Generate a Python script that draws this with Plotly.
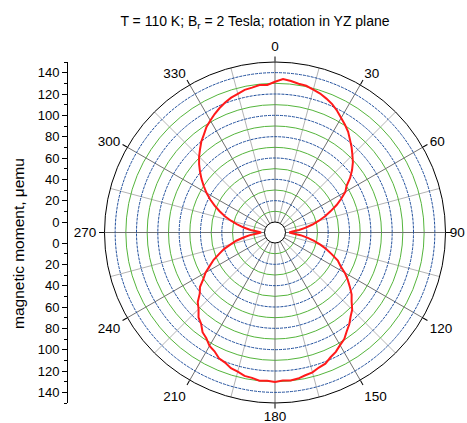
import plotly.graph_objects as go

# ---- data ----
theta_deg = list(range(0, 361, 3))
moment = [
    131.5, 134.2, 133.0, 131.4, 130.8, 128.9, 127.1, 124.6, 121.9, 118.3,
    114.2, 110.6, 106.8, 101.9, 97.5, 92.8, 88.4, 83.1, 77.2, 70.1,
    66.3, 59.8, 53.4, 46.1, 39.5, 32.8, 26.1, 19.4, 12.8, 6.5,
    3.5, 7.1, 14.2, 20.8, 27.6, 34.1, 40.9, 47.3, 54.6, 58.9,
    65.8, 71.4, 76.9, 82.6, 86.8, 92.5, 96.1, 100.8, 104.6, 109.4,
    112.1, 115.7, 118.2, 121.9, 123.3, 125.9, 127.0, 128.8, 129.6, 129.1,
    130.2, 129.4, 129.9, 128.1, 127.6, 125.2, 123.9, 120.8, 119.3, 115.1,
    112.9, 108.4, 105.7, 100.2, 97.3, 91.5, 87.6, 80.9, 77.1, 70.2,
    65.4, 58.6, 53.1, 46.2, 40.5, 33.2, 27.3, 20.1, 13.8, 6.9,
    3.2, 6.6, 13.2, 19.8, 26.4, 32.9, 39.6, 45.8, 52.1, 58.3,
    64.2, 69.7, 75.3, 80.6, 85.9, 90.8, 95.2, 99.9, 103.6, 108.1,
    111.4, 114.8, 117.9, 120.6, 123.1, 124.8, 126.9, 127.7, 129.1, 128.6,
    131.5,
]
r_major = [20, 40, 60, 80, 100, 120, 140]
r_minor = [10, 30, 50, 70, 90, 110, 130]
r_range = [0, 150]
ang_minor = [15, 45, 75, 105, 135, 165, 195, 225, 255, 285, 315, 345]
ang_outer = [0, 30, 60, 120, 150, 210, 240, 270, 300, 330]  # labels at rim distance
ang_inner = [90, 180]                                        # labels slightly closer
y_labels = [0, 20, 40, 60, 80, 100, 120, 140]
y_minor = [10, 30, 50, 70, 90, 110, 130, 150]
y_title = "magnetic moment, \u03bcemu"
title_text = "T = 110 K; B<sub>r</sub> = 2 Tesla; rotation in YZ plane"

FONT = "Liberation Sans, Arial, sans-serif"
W, H = 467, 423
cx, cy, R = 275.0, 232.5, 170.5
hole_px = 10.5
hole = hole_px / R
h_units = hole_px / ((R - hole_px) / r_range[1])  # hole offset in data units


def dom(rad):
    return dict(x=[(cx - rad) / W, (cx + rad) / W],
                y=[1 - (cy + rad) / H, 1 - (cy - rad) / H])


fig = go.Figure()
for sp in ["polar", "polar2", "polar3"]:
    fig.add_trace(go.Scatterpolar(r=[], theta=[], subplot=sp, showlegend=False))
fig.add_trace(go.Scatterpolar(
    r=moment, theta=theta_deg, mode="lines", subplot="polar4",
    line=dict(color="#ff1a1a", width=2), showlegend=False,
))
yt_vals = [h_units + v for v in y_labels] + [-(h_units + v) for v in y_labels]
yt_text = [str(v) for v in y_labels] + [str(v) for v in y_labels]
ym_vals = [h_units + v for v in y_minor] + [-(h_units + v) for v in y_minor]
ytop = h_units + r_range[1]
fig.add_trace(go.Scatter(x=[], y=[], xaxis="x", yaxis="y", showlegend=False))

common_ang = dict(rotation=90, direction="clockwise", thetaunit="degrees")
tickfont = dict(family=FONT, size=13.5, color="black")
clear = "rgba(0,0,0,0)"

fig.update_layout(
    width=W, height=H,
    margin=dict(l=0, r=0, t=0, b=0),
    paper_bgcolor="white", plot_bgcolor=clear,
    font=dict(family=FONT, size=13, color="black"),
    title=dict(text=title_text,
               x=255 / W, xanchor="center", y=1 - 21 / H, yanchor="middle",
               font=dict(family=FONT, size=14, color="black")),
    # minor grids
    polar=dict(
        domain=dom(R), hole=hole, bgcolor="white",
        radialaxis=dict(range=r_range, tickmode="array", tickvals=r_minor,
                        showticklabels=False, ticks="", showline=False,
                        gridcolor="#55b53c", gridwidth=1),
        angularaxis=dict(tickmode="array", tickvals=ang_minor, showticklabels=False,
                         ticks="", showline=False, gridcolor="#b4b4b4", gridwidth=1,
                         **common_ang),
    ),
    # spokes + ticks at 90 / 180 (no labels)
    polar2=dict(
        domain=dom(R), hole=hole, bgcolor=clear,
        radialaxis=dict(visible=False, range=r_range),
        angularaxis=dict(tickmode="array", tickvals=ang_inner, showticklabels=False,
                         ticks="outside", ticklen=5, tickcolor="black",
                         showline=False, gridcolor="#707070", gridwidth=1,
                         **common_ang),
    ),
    # labels 90 / 180, a little closer to the rim
    polar3=dict(
        domain=dom(R - 4), hole=hole, bgcolor=clear,
        radialaxis=dict(visible=False, range=r_range),
        angularaxis=dict(tickmode="array", tickvals=ang_inner,
                         ticktext=[str(a) for a in ang_inner],
                         ticks="outside", ticklen=5, tickcolor=clear,
                         showline=False, showgrid=False, tickfont=tickfont,
                         **common_ang),
    ),
    # major grids, rim, other labels, data
    polar4=dict(
        domain=dom(R), hole=hole, bgcolor=clear,
        radialaxis=dict(range=r_range, tickmode="array", tickvals=[0] + r_major,
                        showticklabels=False, ticks="", showline=False,
                        gridcolor="#1f4e9c", gridwidth=1, griddash="3px,1px"),
        angularaxis=dict(tickmode="array", tickvals=ang_outer,
                         ticktext=[str(a) for a in ang_outer],
                         ticks="outside", ticklen=5, tickcolor="black",
                         showline=True, linecolor="black", linewidth=1,
                         gridcolor="#707070", gridwidth=1,
                         tickfont=tickfont, **common_ang),
    ),
    xaxis=dict(domain=[68 / W, 80 / W], visible=False, range=[0, 1]),
    yaxis=dict(domain=dom(R)["y"], range=[-ytop, ytop], anchor="x", side="left",
               tickmode="array", tickvals=yt_vals, ticktext=yt_text,
               ticks="outside", ticklen=5, tickcolor="black", tickwidth=1,
               showline=True, linecolor="black", linewidth=1,
               showgrid=False, zeroline=False,
               minor=dict(tickmode="array", tickvals=ym_vals, ticks="outside",
                          ticklen=3, tickcolor="black", showgrid=False),
               tickfont=dict(family=FONT, size=13, color="black")),
    annotations=[dict(text=y_title, textangle=-90, xref="paper", yref="paper",
                      x=18 / W, y=1 - 244 / H, xanchor="center", yanchor="middle",
                      showarrow=False,
                      font=dict(family=FONT, size=15.5, color="black"))],
)

fig.write_html(
    "out.html",
    config={"displayModeBar": False},
    post_script="document.body.style.margin='0';document.body.style.overflow='hidden';",
)
